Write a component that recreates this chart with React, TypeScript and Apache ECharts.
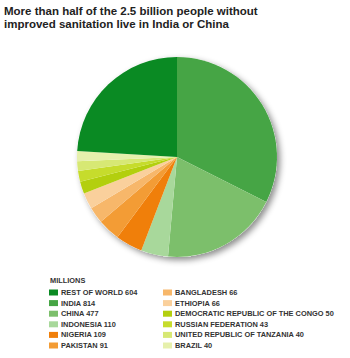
import React, { useEffect, useRef } from "react";
import * as echarts from "echarts";

const titleLines = [
  "More than half of the 2.5 billion people without",
  "improved sanitation live in India or China",
];
const unitLabel = "MILLIONS";

// pie order (clockwise from 12 o'clock)
const countries = [
  "INDIA",
  "CHINA",
  "INDONESIA",
  "NIGERIA",
  "PAKISTAN",
  "BANGLADESH",
  "ETHIOPIA",
  "DEMOCRATIC REPUBLIC OF THE CONGO",
  "RUSSIAN FEDERATION",
  "UNITED REPUBLIC OF TANZANIA",
  "BRAZIL",
  "REST OF WORLD",
];
const millions = [814, 477, 110, 109, 91, 66, 66, 50, 43, 40, 40, 604];
const colors = [
  "#46a545",
  "#7cbf6b",
  "#a8d89b",
  "#f07f0a",
  "#f39c35",
  "#f7b76a",
  "#fad09c",
  "#b3cf0e",
  "#c6dc2c",
  "#d7e874",
  "#e6f0ac",
  "#0a8a23",
];
const legendCol1 = ["REST OF WORLD", "INDIA", "CHINA", "INDONESIA", "NIGERIA", "PAKISTAN"];
const legendCol2 = [
  "BANGLADESH",
  "ETHIOPIA",
  "DEMOCRATIC REPUBLIC OF THE CONGO",
  "RUSSIAN FEDERATION",
  "UNITED REPUBLIC OF TANZANIA",
  "BRAZIL",
];

export default function App() {
  const ref = useRef<HTMLDivElement>(null);
  useEffect(() => {
    if (!ref.current) return;
    const chart = echarts.init(ref.current, null, { renderer: "svg" });
    const valueOf = (n: string) => millions[countries.indexOf(n)];
    const font = "Liberation Sans, Arial, sans-serif";
    const legendText = {
      fontSize: 7.4,
      fontWeight: "bold" as const,
      color: "#333",
      fontFamily: font,
      padding: [0, 0, 0, -2],
    };
    const legendBase = {
      orient: "vertical" as const,
      top: 289,
      padding: 0,
      itemWidth: 9,
      itemHeight: 6,
      itemGap: 3.6,
      icon: "rect",
      selectedMode: false,
      textStyle: legendText,
      formatter: (n: string) => `${n} ${valueOf(n)}`,
    };
    chart.setOption({
      animation: false,
      backgroundColor: "#fff",
      title: {
        text: titleLines.join("\n"),
        left: 4,
        top: 4,
        padding: 0,
        textStyle: {
          fontSize: 11.5,
          fontWeight: "bold",
          color: "#222",
          lineHeight: 13,
          fontFamily: font,
        },
      },
      graphic: [
        {
          type: "text",
          left: 50,
          top: 277,
          style: {
            text: unitLabel,
            fontSize: 7.4,
            fontWeight: "bold",
            fill: "#333",
            fontFamily: font,
          },
        },
      ],
      legend: [
        { ...legendBase, data: legendCol1, left: 49 },
        { ...legendBase, data: legendCol2, left: 163 },
      ],
      series: [
        {
          type: "pie",
          name: "shadow",
          silent: true,
          center: [177, 157],
          radius: 100,
          z: 1,
          label: { show: false },
          labelLine: { show: false },
          data: [
            {
              value: 1,
              name: "__bg",
              itemStyle: {
                color: "#fff",
                shadowBlur: 6,
                shadowOffsetX: 3,
                shadowOffsetY: 3,
                shadowColor: "rgba(0,0,0,0.45)",
              },
            },
          ],
        },
        {
          type: "pie",
          name: "Millions",
          center: [177, 157],
          radius: 100,
          startAngle: 90,
          clockwise: true,
          z: 2,
          silent: true,
          label: { show: false },
          labelLine: { show: false },
          itemStyle: { borderWidth: 0 },
          data: countries.map((c, i) => ({
            name: c,
            value: millions[i],
            itemStyle: { color: colors[i] },
          })),
        },
      ],
    });
    return () => chart.dispose();
  }, []);
  return (
    <div
      ref={ref}
      style={{ position: "absolute", left: 0, top: 0, width: 350, height: 358 }}
    />
  );
}
